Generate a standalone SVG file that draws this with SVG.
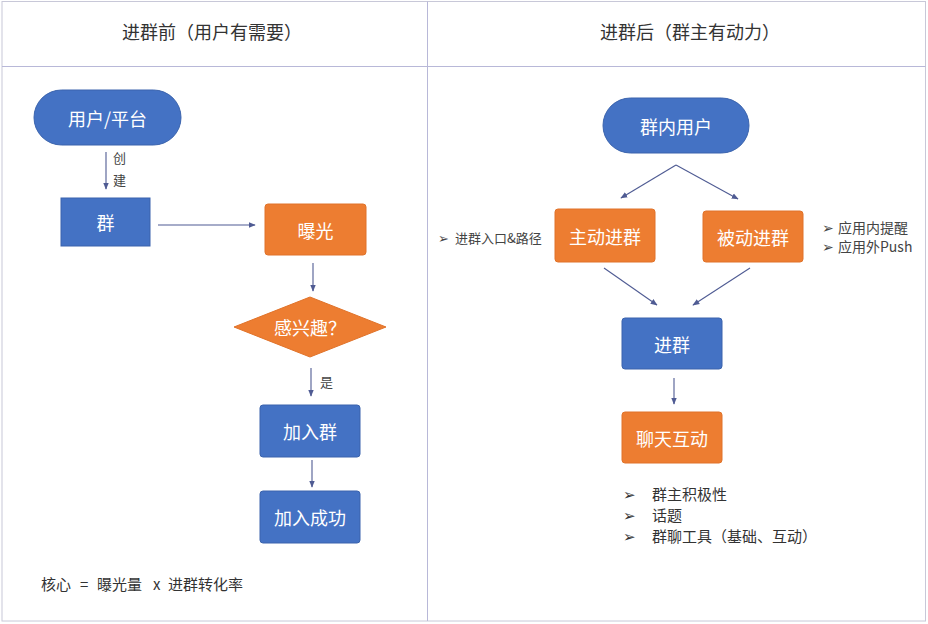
<svg xmlns="http://www.w3.org/2000/svg" width="928" height="624" viewBox="0 0 928 624">
<defs>
<marker id="ah" viewBox="0 0 10 10" refX="9" refY="5" markerWidth="7" markerHeight="7" orient="auto" markerUnits="userSpaceOnUse">
<path d="M0,1 L10,5 L0,9 Z" fill="#4f5b93"/>
</marker>
</defs>
<style>
text{font-family:"Noto Sans CJK SC","Noto Sans",sans-serif;}
.title{font-size:18px;fill:#333;text-anchor:middle;}
.nt{font-size:18px;fill:#fff;text-anchor:middle;dominant-baseline:central;}
.blue{fill:#4472c4;stroke:#3a63ad;stroke-width:1;}
.orange{fill:#ed7d31;stroke:#e0732a;stroke-width:1;}
.lbl{font-size:13px;fill:#444;}
.sn{font-size:14px;fill:#444;}
.note{font-size:15px;fill:#333;}
.conn line{stroke:#4f5b93;stroke-width:1.1;marker-end:url(#ah);}
.grid{stroke:#c8c8d8;stroke-width:1;fill:none;}
</style>
<rect x="0" y="0" width="928" height="624" fill="#fff"/>
<g id="table">
<rect class="grid" x="2" y="1.5" width="923.5" height="619.5"/>
<line x1="2" y1="66.5" x2="925.5" y2="66.5" stroke="#b8b8d8" stroke-width="1"/>
<line x1="427.5" y1="1.5" x2="427.5" y2="621" stroke="#b8b8d8" stroke-width="1"/>
<text class="title" x="212" y="39">进群前（用户有需要）</text>
<text class="title" x="690" y="39">进群后（群主有动力）</text>
</g>
<g class="conn" id="connectors">
<line x1="106" y1="152" x2="106" y2="189"/>
<line x1="158" y1="225" x2="255" y2="225"/>
<line x1="313" y1="263" x2="313" y2="291"/>
<line x1="311" y1="368" x2="311" y2="396"/>
<line x1="312" y1="460" x2="312" y2="487"/>
<line x1="676" y1="165" x2="621" y2="198"/>
<line x1="676" y1="165" x2="738" y2="199"/>
<line x1="604" y1="268" x2="657" y2="305"/>
<line x1="750" y1="268" x2="693" y2="305"/>
<line x1="674" y1="378" x2="674" y2="404"/>
</g>
<g id="edge-labels">
<text class="lbl" x="113" y="163">创</text>
<text class="lbl" x="113" y="185">建</text>
<text class="lbl" x="320" y="387">是</text>
</g>
<g id="n-user"><rect class="blue" x="34" y="90" width="147" height="55" rx="27.5"/><text class="nt" x="107.5" y="118">用户/平台</text></g>
<g id="n-group"><rect class="blue" x="61" y="198" width="89" height="48"/><text class="nt" x="105.5" y="222">群</text></g>
<g id="n-expose"><rect class="orange" x="265" y="204" width="101" height="51" rx="3"/><text class="nt" x="315.5" y="230">曝光</text></g>
<g id="n-interest"><polygon class="orange" points="310,297 386,327 310,357 234,327"/><text class="nt" x="310" y="327">感兴趣？</text></g>
<g id="n-join"><rect class="blue" x="260" y="405" width="100" height="52" rx="3"/><text class="nt" x="310" y="431">加入群</text></g>
<g id="n-success"><rect class="blue" x="260" y="491" width="100" height="52" rx="3"/><text class="nt" x="310" y="517">加入成功</text></g>
<g id="formula">
<text class="note" x="41" y="590">核心</text>
<text class="note" x="80" y="590">=</text>
<text class="note" x="97" y="590">曝光量</text>
<text class="note" x="153" y="590">x</text>
<text class="note" x="168" y="590">进群转化率</text>
</g>
<g id="n-inner"><rect class="blue" x="603" y="98" width="146" height="55" rx="27.5"/><text class="nt" x="676" y="126">群内用户</text></g>
<g id="n-active"><rect class="orange" x="555" y="209" width="100" height="53" rx="3"/><text class="nt" x="605" y="236">主动进群</text></g>
<g id="n-passive"><rect class="orange" x="703" y="211" width="100" height="51" rx="3"/><text class="nt" x="753" y="237">被动进群</text></g>
<g id="n-enter"><rect class="blue" x="622" y="318" width="100" height="51" rx="3"/><text class="nt" x="672" y="344">进群</text></g>
<g id="n-chat"><rect class="orange" x="622" y="412" width="100" height="51" rx="3"/><text class="nt" x="672" y="438">聊天互动</text></g>
<g id="notes">
<text class="lbl" x="438" y="243">➢</text><text class="lbl" x="455" y="243">进群入口&amp;路径</text>
<text class="sn" x="822" y="233">➢</text><text class="sn" x="838" y="233">应用内提醒</text>
<text class="sn" x="822" y="252">➢</text><text class="sn" x="838" y="252">应用外Push</text>
<text class="note" x="623" y="500">➢</text><text class="note" x="652" y="500">群主积极性</text>
<text class="note" x="623" y="521">➢</text><text class="note" x="652" y="521">话题</text>
<text class="note" x="623" y="542">➢</text><text class="note" x="652" y="542">群聊工具（基础、互动）</text>
</g>
</svg>
